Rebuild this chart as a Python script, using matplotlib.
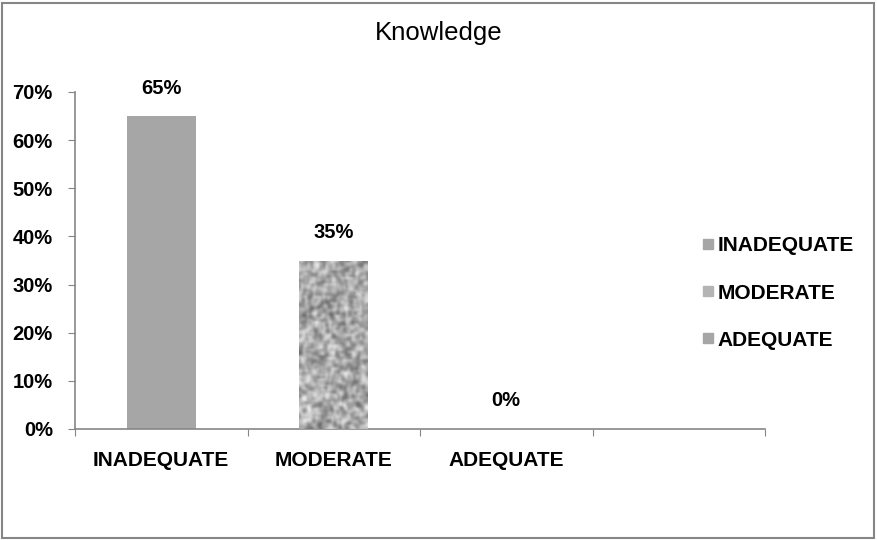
import numpy as np
import matplotlib.pyplot as plt
from matplotlib.lines import Line2D
from matplotlib.patches import Rectangle

categories = ["INADEQUATE", "MODERATE", "ADEQUATE"]
values = [65, 35, 0]
yticks = [0, 10, 20, 30, 40, 50, 60, 70]

plt.rcParams['font.family'] = ['Liberation Sans', 'DejaVu Sans']
gray = '#868686'
bar_col = '#a6a6a6'
fs = 15

fig = plt.figure(figsize=(8.77, 5.40), dpi=100)
ax = fig.add_axes([75/877, 111/540, 690/877, 337/540])

x = np.arange(len(categories))
bars = ax.bar(x, values, width=0.4, color=bar_col, zorder=2)

# speckled texture on the MODERATE bar
rng = np.random.default_rng(7)
noise = rng.random((80, 34))
noise = (noise + 0.5 * (np.roll(noise, 1, 0) + np.roll(noise, -1, 0)
                        + np.roll(noise, 1, 1) + np.roll(noise, -1, 1))) / 3
noise = (noise - noise.min()) / (noise.max() - noise.min())
b = bars[1]
im = ax.imshow(noise, cmap='gray', vmin=-0.55, vmax=1.0,
               extent=(b.get_x(), b.get_x() + b.get_width(), 0, b.get_height()),
               aspect='auto', interpolation='bicubic', zorder=3)
im.set_clip_path(b)

ax.set_xlim(-0.5, 3.5)
ax.set_ylim(0, 70)
ax.set_aspect('auto')

for s in ['top', 'right']:
    ax.spines[s].set_visible(False)
for s in ['left', 'bottom']:
    ax.spines[s].set_color(gray)
    ax.spines[s].set_linewidth(1.2)

ax.set_yticks(yticks)
ax.set_yticklabels([f"{v}%" for v in yticks])
ax.tick_params(axis='y', length=5, color=gray, pad=11, labelsize=14.5)
for t in ax.get_yticklabels():
    t.set_fontweight('bold')

ax.set_xticks([-0.5, 0.5, 1.5, 2.5, 3.5])
ax.set_xticklabels([])
ax.tick_params(axis='x', which='major', length=5, color=gray)
ax.set_xticks(x, minor=True)
ax.set_xticklabels(categories, minor=True, fontsize=fs, fontweight='bold')
ax.tick_params(axis='x', which='minor', length=0, pad=16)

for xi, v in zip(x, values):
    ax.annotate(f"{v}%", (xi, v), xytext=(0, 28), textcoords='offset pixels',
                ha='center', va='center', fontsize=14.5, fontweight='bold')

fig.text(0.5, 1 - 33/540, 'Knowledge', ha='center', va='center', fontsize=18.5)

handles = [Line2D([], [], marker='s', ls='', color=bar_col, markersize=6.5),
           Line2D([], [], marker='s', ls='', color='#b4b4b4', markersize=6.5),
           Line2D([], [], marker='s', ls='', color=bar_col, markersize=6.5)]
fig.legend(handles, categories, loc='center left', bbox_to_anchor=(684/877, 1 - 293/540),
           frameon=False, prop={'size': fs, 'weight': 'bold'},
           handlelength=0.5, handletextpad=0.2, labelspacing=1.35)

fig.patches.append(Rectangle((2/877, 2/540), 872/877, 535/540, transform=fig.transFigure,
                             fill=False, edgecolor=gray, lw=1.5))

fig.savefig('out.png', dpi=100)
